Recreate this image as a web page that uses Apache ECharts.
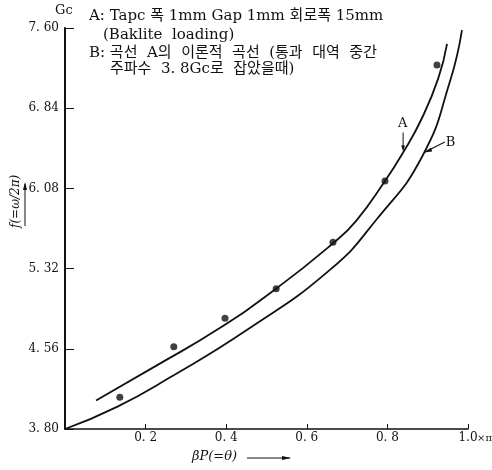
<!DOCTYPE html>
<html><head><meta charset="utf-8">
<script src="https://cdn.jsdelivr.net/npm/echarts@6/dist/echarts.min.js"></script>
<style>html,body{margin:0;padding:0;background:#fff}#c{width:492px;height:470px}</style>
</head><body><div id="c"></div>
<script>
// Data
const xTicks = [0.2, 0.4, 0.6, 0.8, 1.0];
const xTickLabels = ['0. 2', '0. 4', '0. 6', '0. 8', '1.0'];
const xUnit = '×π';
const yTickLabels = ['3. 80', '4. 56', '5. 32', '6. 08', '6. 84', '7. 60'];
// Measured points (dots)
const measX = [0.136, 0.270, 0.397, 0.524, 0.665, 0.794, 0.923];
const measY = [4.10, 4.58, 4.85, 5.13, 5.57, 6.15, 7.25];
// Curve A (experimental fit)
const curveAX = [0.077, 0.231, 0.377, 0.524, 0.665, 0.722, 0.794, 0.839, 0.885, 0.926, 0.948];
const curveAY = [4.07, 4.41, 4.74, 5.13, 5.56, 5.77, 6.15, 6.42, 6.74, 7.12, 7.45];
// Curve B (theoretical)
const curveBX = [0.0, 0.129, 0.261, 0.452, 0.658, 0.774, 0.886, 0.955, 0.985];
const curveBY = [3.80, 4.01, 4.29, 4.74, 5.31, 5.79, 6.38, 7.09, 7.58];

const serif = '"DejaVu Serif","Liberation Serif",serif';
const kr = '"DejaVu Serif","Noto Sans CJK KR",serif';
const zip = (xs, ys) => xs.map((x, i) => [x, ys[i]]);

const chart = echarts.init(document.getElementById('c'));
chart.setOption({
  animation: false,
  backgroundColor: '#fff',
  grid: { left: 65, right: 24, top: 28, bottom: 41, containLabel: false, outerBoundsMode: 'none' },
  xAxis: {
    type: 'value', min: 0, max: 1, interval: 0.2,
    axisLine: { lineStyle: { color: '#111', width: 1.5 } },
    axisTick: { inside: true, length: 5, lineStyle: { color: '#111' } },
    splitLine: { show: false },
    axisLabel: {
      color: '#111', fontFamily: serif, fontSize: 12, margin: 3, hideOverlap: false,
      formatter: v => {
        const i = xTicks.findIndex(t => Math.abs(t - v) < 1e-6);
        return i < 0 ? '' : xTickLabels[i];
      }
    }
  },
  yAxis: {
    type: 'value', min: 3.8, max: 7.6, interval: 0.76,
    axisLine: { show: true, lineStyle: { color: '#111', width: 2 } },
    axisTick: { show: true, inside: true, length: 9, lineStyle: { color: '#111' } },
    splitLine: { show: false },
    axisLabel: {
      color: '#111', fontFamily: serif, fontSize: 12, margin: 6,
      formatter: v => yTickLabels[Math.round((v - 3.8) / 0.76)]
    }
  },
  series: [
    { type: 'line', data: zip(curveAX, curveAY), smooth: 0.5, symbol: 'none',
      lineStyle: { color: '#111', width: 1.8 } },
    { type: 'line', data: zip(curveBX, curveBY), smooth: 0.5, symbol: 'none',
      lineStyle: { color: '#111', width: 1.8 } },
    { type: 'scatter', data: zip(measX, measY), symbolSize: 7,
      itemStyle: { color: '#111' } }
  ]
});

function P(x, y) { return chart.convertToPixel({ gridIndex: 0 }, [x, y]); }
const a1 = P(0.839, 6.61), a2 = P(0.839, 6.44);
const b1 = P(0.935, 6.50), b2 = P(0.891, 6.42);
const xEnd = P(1.0, 3.8);
chart.setOption({
  graphic: [
    { type: 'text', left: 55, top: 4, style: { text: 'Gc', font: '13px ' + serif, fill: '#111' } },
    { type: 'text', left: 89, top: 9, style: { text: 'A: Tapc 폭 1mm Gap 1mm 회로폭 15mm', font: '15px ' + kr, fill: '#111' } },
    { type: 'text', left: 103, top: 28, style: { text: '(Baklite  loading)', font: '15px ' + kr, fill: '#111' } },
    { type: 'text', left: 89, top: 46, style: { text: 'B: 곡선  A의  이론적  곡선  (통과  대역  중간', font: '15px ' + kr, fill: '#111' } },
    { type: 'text', left: 110, top: 62, style: { text: '주파수  3. 8Gc로  잡았을때)', font: '15px ' + kr, fill: '#111' } },
    // unit after last x tick label
    { type: 'text', x: xEnd[0] + 9, y: xEnd[1] + 4, style: { text: xUnit, font: '10px ' + serif, fill: '#111' } },
    // curve annotations
    { type: 'text', x: a1[0] - 5, y: a1[1] - 15, style: { text: 'A', font: '13px ' + serif, fill: '#111' } },
    { type: 'line', shape: { x1: a1[0], y1: a1[1], x2: a2[0], y2: a2[1] }, style: { stroke: '#111', lineWidth: 1 } },
    { type: 'polygon', shape: { points: [[a2[0] - 2, a2[1] - 5], [a2[0] + 2, a2[1] - 5], [a2[0], a2[1]]] }, style: { fill: '#111' } },
    { type: 'text', x: b1[0] + 4, y: b1[1] - 8, style: { text: 'B', font: '13px ' + serif, fill: '#111' } },
    { type: 'line', shape: { x1: b1[0] + 3, y1: b1[1] - 2, x2: b2[0], y2: b2[1] }, style: { stroke: '#111', lineWidth: 1.2 } },
    { type: 'polygon', shape: { points: [[b2[0], b2[1]], [b2[0] + 7, b2[1] - 5], [b2[0] + 8, b2[1] - 1]] }, style: { fill: '#111' } },
    // y axis name (reads bottom to top)
    { type: 'text', x: 10, y: 228, rotation: Math.PI / 2, style: { text: 'f(=ω/2π)', font: 'italic 12px ' + serif, fill: '#111' } },
    { type: 'line', shape: { x1: 25, y1: 226, x2: 25, y2: 184 }, style: { stroke: '#111', lineWidth: 1 } },
    { type: 'polygon', shape: { points: [[23, 190], [27, 190], [25, 182]] }, style: { fill: '#111' } },
    // x axis name
    { type: 'text', x: 192, y: 450, style: { text: 'βP(=θ)', font: 'italic 13px ' + serif, fill: '#111' } },
    { type: 'line', shape: { x1: 247, y1: 458, x2: 290, y2: 458 }, style: { stroke: '#111', lineWidth: 1 } },
    { type: 'polygon', shape: { points: [[282, 456], [282, 460], [291, 458]] }, style: { fill: '#111' } }
  ]
});
</script></body></html>
